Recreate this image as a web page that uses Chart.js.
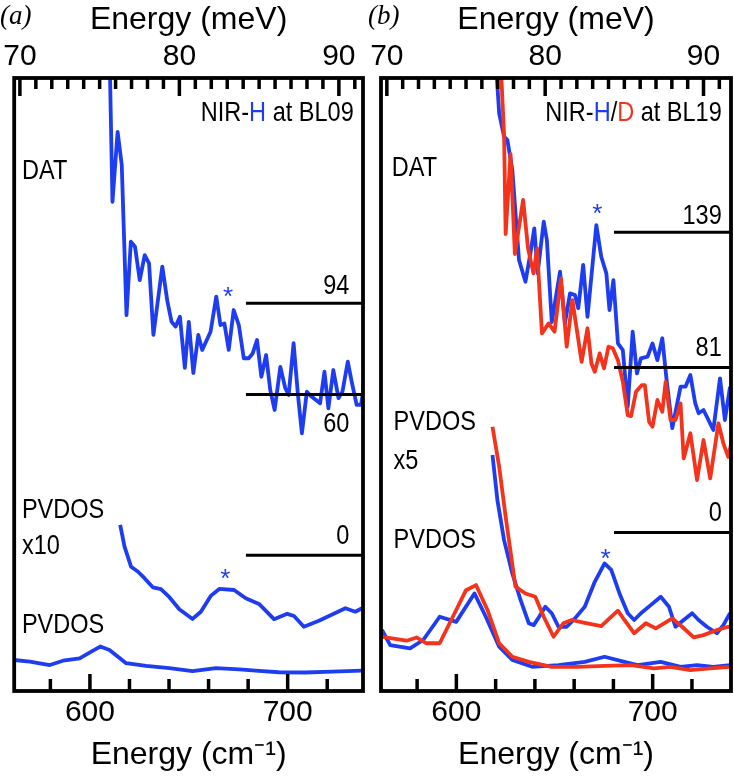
<!DOCTYPE html>
<html><head><meta charset="utf-8">
<script src="https://cdn.jsdelivr.net/npm/chart.js@4.4.1/dist/chart.umd.min.js"></script>
<style>
html,body{margin:0;padding:0;background:#fff;}
#wrap{position:relative;width:734px;height:778px;overflow:hidden;background:#fff;}
.pane{position:absolute;top:0;width:367px;height:778px;}
</style></head><body>
<div id="wrap">
<div class="pane" style="left:0"><canvas id="ca" width="367" height="778"></canvas></div>
<div class="pane" style="left:367px"><canvas id="cb" width="367" height="778"></canvas></div>
</div>
<script>
const MEV_TO_CM = 8.0655;
const cmTickLabels = [600, 700];
const cmTickMarks = [580, 600, 620, 640, 660, 680, 700, 720];
const mevTickLabels = [70, 80, 90];
const mevTickMarks = [70, 71, 72, 73, 74, 75, 76, 77, 78, 79, 80, 81, 82, 83, 84, 85, 86, 87, 88, 89, 90, 91];

// ---------- Panel (a): NIR-H at BL09 ----------
const aDatCm = [609.6,611.4,614.0,616.1,618.5,620.7,622.8,625.2,627.7,629.9,632.1,636.6,639.2,641.3,643.3,645.5,648.0,650.0,652.3,654.8,656.8,661.0,663.9,666.0,668.0,670.2,672.7,675.3,677.8,680.3,682.3,684.5,686.7,689.1,691.2,693.4,696.3,698.8,700.5,703.0,705.2,707.2,709.7,712.2,716.4,718.6,720.6,723.1,725.7,727.7,730.4,732.4,734.9,737.1,739.1];
const aDatCounts = [200,131.9,158.0,145.6,89.6,117.0,115.1,102.7,112.0,108.9,82.2,107.7,94.6,87.1,85.3,89.0,69.9,87.1,68.0,82.2,76.6,83.4,96.5,85.9,86.5,76.6,91.5,85.9,73.5,73.5,75.3,80.3,66.6,74.7,61.6,54.2,70.3,62.3,59.8,79.1,59.8,45.5,61.0,59.1,56.7,68.5,54.8,69.1,58.6,61.0,72.2,64.7,56.1,56.1,65.4];
const aPvdosX10Cm = [615.3,617.5,620.8,624.2,627.6,631.8,635.9,640.2,645.2,651.9,656.1,661.1,665.4,672.9,678.8,685.5,693.1,699.8,703.2,708.2,715.8,723.3,729.2,734.2,737.6,739.5];
const aPvdosX10 = [11.3,3.2,-4.3,-6.1,-8.6,-12.0,-12.7,-15.7,-20.2,-23.8,-21.1,-15.2,-12.6,-13.0,-16.1,-18.2,-23.9,-21.9,-22.7,-26.7,-24.5,-21.9,-19.8,-21.1,-19.8,-19.4];
const aPvdosCm = [561.2,569.6,579.7,586.4,594.8,600.7,605.2,609.9,618.3,628.4,640.2,651.9,663.7,675.5,685.5,695.5,708.9,722.5,737.6,739.5];
const aPvdos = [-39.1,-39.7,-41.0,-39.4,-38.5,-36.0,-34.1,-35.4,-40.3,-41.3,-42.2,-43.3,-42.2,-42.6,-43.2,-43.7,-43.8,-43.5,-43.1,-43.1];
const aRefLevels = [94, 60, 0];
const aRefLabels = ['94', '60', '0'];
const aRefFrom = 678.9;

// ---------- Panel (b): NIR-H/D at BL19 ----------
const bDatHCm = [619.9,621.8,624.3,626.0,628.5,631.9,635.2,637.7,639.7,641.4,644.5,646.1,648.6,652.8,655.3,657.9,660.4,662.1,664.6,666.8,671.3,673.8,676.4,678.0,680.0,682.3,684.8,687.3,689.8,692.0,694.0,697.4,699.9,702.4,704.9,707.1,710.0,714.2,716.7,719.2,721.7,723.4,725.9,727.6,730.9,734.3,736.8,739.4];
const bDatH = [215,190.1,180.1,178.6,165.8,127.1,117.8,130.0,140.7,121.4,143.6,135.7,100.5,122.1,99.9,112.8,112.1,106.4,125.0,102.7,142.1,128.5,121.4,105.6,118.5,91.3,88.4,64.1,96.3,78.4,84.9,85.6,91.3,84.1,93.5,75.6,54.9,72.7,72.7,77.7,65.5,61.3,62.7,59.8,54.1,76.3,58.4,72.7];
const bDatDCm = [622.4,624.3,625.1,627.6,629.8,634.0,636.5,639.3,641.1,643.6,647.0,650.0,653.3,656.2,659.1,663.8,666.8,668.8,670.5,673.0,675.2,677.5,679.7,682.3,684.8,687.3,689.0,691.5,694.5,696.0,698.2,699.9,702.4,704.9,706.6,709.1,711.6,714.2,715.8,719.2,722.6,725.9,729.3,733.5,736.0,738.5,740.4];
const bDatD = [215,180.8,138.3,172.6,129.7,152.9,132.1,121.4,132.1,95.6,99.9,96.3,119.2,89.9,109.9,83.4,97.8,82.7,79.1,87.0,80.6,89.9,89.2,84.1,74.8,60.5,60.1,70.5,73.4,73.4,57.6,55.5,67.0,61.9,74.8,58.4,58.4,65.5,41.9,52.7,32.6,49.8,33.3,57.0,48.4,42.6,49.8];
const bPvdosX5HCm = [618.4,620.9,624.3,628.5,632.7,636.9,639.4,642.1,645.3,648.6,652.0,656.2,660.4,665.4,670.5,675.5,678.9,683.1,687.3,690.6,694.0,699.0,704.1,708.3,711.6,715.8,720.1,723.4,727.6,732.7,736.0,739.4];
const bPvdosX5H = [43.4,24.0,6.8,-7.5,-18.9,-28.9,-29.7,-26.2,-21.8,-24.6,-30.4,-30.4,-26.8,-21.8,-11.1,-3.2,-6.0,-16.1,-24.6,-27.5,-24.6,-21.1,-17.5,-21.8,-30.4,-27.5,-24.6,-27.5,-30.4,-33.2,-29.7,-24.6];
const bPvdosX5DCm = [618.4,621.8,625.1,630.1,635.2,640.2,644.5,649.5,654.5,658.7,665.4,673.8,678.0,682.3,685.6,690.6,696.5,701.6,710.0,715.0,720.9,725.9,732.7,738.5,740.4];
const bPvdosX5D = [55.5,38.3,16.9,-13.2,-16.1,-17.5,-26.1,-34.7,-28.9,-27.5,-28.7,-30.1,-26.8,-23.5,-27.5,-33.2,-28.9,-31.1,-26.8,-30.4,-35.0,-34.0,-31.8,-30.4,-31.0];
const bPvdosHCm = [562.1,566.3,576.4,583.1,591.5,599.9,609.2,615.0,621.8,628.5,638.6,652.0,665.4,675.5,685.6,692.3,704.1,714.2,722.6,730.9,739.4];
const bPvdosH = [-31.8,-38.3,-39.7,-36.1,-26.1,-28.3,-16.1,-26.1,-39.0,-44.7,-47.6,-46.9,-45.5,-43.3,-45.5,-46.9,-45.5,-47.6,-46.9,-47.6,-46.9];
const bPvdosDCm = [562.1,574.7,579.7,584.8,591.5,598.2,604.9,610.0,615.9,621.8,628.5,636.9,648.6,662.1,675.5,689.0,700.7,709.1,719.2,729.3,739.4];
const bPvdosD = [-34.7,-36.4,-35.0,-37.5,-37.5,-26.1,-14.7,-12.5,-23.3,-37.5,-43.3,-45.5,-47.6,-47.6,-47.2,-46.9,-48.3,-47.6,-49.0,-48.3,-47.6];
const bRefLevels = [139, 81, 10.1];
const bRefLabels = ['139', '81', '0'];
const bRefFrom = 680.3;

const BLUE = '#1e3cf0';
const RED = '#f4331c';
const SANS = "'Liberation Sans', Arial, Helvetica, sans-serif";
const NARROW_SCALE = 0.84;

function pts(xs, ys) { return xs.map((x, i) => ({x: x, y: ys[i]})); }
function series(xs, ys, color, order) {
  return {data: pts(xs, ys), borderColor: color, backgroundColor: color, borderWidth: 3.8,
          pointRadius: 0, tension: 0, fill: false, order: order,
          borderJoinStyle: 'round', borderCapStyle: 'butt'};
}
function refSeries(level, from, to) {
  return {data: [{x: from, y: level}, {x: to, y: level}], borderColor: '#000', borderWidth: 3,
          pointRadius: 0, fill: false, order: 0};
}

function narrowText(ctx, parts, x, y, align) {
  ctx.save();
  ctx.font = '28px ' + SANS;
  ctx.textBaseline = 'middle';
  ctx.textAlign = 'left';
  let total = 0;
  parts.forEach(p => total += ctx.measureText(p.t).width);
  ctx.translate(x, y);
  ctx.scale(NARROW_SCALE, 1);
  let cx = align === 'right' ? -total : (align === 'center' ? -total / 2 : 0);
  parts.forEach(p => { ctx.fillStyle = p.c; ctx.fillText(p.t, cx, 0); cx += ctx.measureText(p.t).width; });
  ctx.restore();
}

function makePlugin(p) {
  return {
    id: 'deco' + p.tag,
    afterDraw(chart) {
      const ctx = chart.ctx, ca = chart.chartArea;
      const sx = chart.scales.x, st = chart.scales.xt, sy = chart.scales.y;
      ctx.save();
      ctx.fillStyle = '#000';
      // bottom tick marks (cm^-1), positioned through the top scale which spans the same range
      cmTickMarks.forEach(v => {
        const px = st.getPixelForValue(v / MEV_TO_CM);
        const len = cmTickLabels.indexOf(v) >= 0 ? 17 : 12;
        ctx.fillRect(px - 1.75, ca.bottom - len, 3.5, len);
      });
      // top tick marks (meV)
      mevTickMarks.forEach(v => {
        const px = st.getPixelForValue(v);
        const len = mevTickLabels.indexOf(v) >= 0 ? 18 : 11;
        ctx.fillRect(px - 1.75, ca.top, 3.5, len);
      });
      ctx.strokeStyle = '#000';
      ctx.lineWidth = 3.8;
      ctx.strokeRect(ca.left, ca.top, ca.right - ca.left, ca.bottom - ca.top);
      ctx.fillStyle = '#000';
      ctx.font = "italic 27px 'Liberation Serif', 'Times New Roman', serif";
      ctx.textAlign = 'left'; ctx.textBaseline = 'middle';
      ctx.fillText(p.letter, p.letterX, 17);
      p.texts.forEach(a => {
        const x = sx.getPixelForValue(a.x), y = sy.getPixelForValue(a.y);
        narrowText(ctx, a.parts || [{t: a.t, c: '#000'}], x, y, a.align || 'left');
      });
      p.refLevels.forEach((lv, i) => {
        const x = sx.getPixelForValue(p.refLabelX);
        const y = sy.getPixelForValue(lv) + p.refOffsets[i];
        narrowText(ctx, [{t: p.refLabels[i], c: '#000'}], x, y, 'right');
      });
      ctx.font = '26px ' + SANS; ctx.fillStyle = p.starColor; ctx.textAlign = 'center';
      ctx.textBaseline = 'alphabetic';
      p.stars.forEach(s => {
        ctx.fillText('*', sx.getPixelForValue(s.x), sy.getPixelForValue(s.y) + 15);
      });
      ctx.restore();
    }
  };
}

function labelIf(list) {
  return v => (Math.abs(v - Math.round(v)) < 1e-6 && list.includes(Math.round(v))) ? String(Math.round(v)) : '';
}

function makeChart(id, p) {
  const xmin = p.xmin, xmax = p.xmax;
  return new Chart(document.getElementById(id), {
    type: 'line',
    data: {datasets: p.datasets},
    options: {
      responsive: false, animation: false, devicePixelRatio: 1,
      layout: {autoPadding: false, padding: {left: p.padLeft, right: p.padRight, top: 0, bottom: 0}},
      plugins: {legend: {display: false}, tooltip: {enabled: false}},
      scales: {
        x: {type: 'linear', position: 'bottom', min: xmin, max: xmax,
            grid: {display: false, drawTicks: false}, border: {display: false},
            ticks: {stepSize: 20, includeBounds: false, autoSkip: false, maxRotation: 0, padding: 4, color: '#000',
                    font: {family: SANS, size: 30}, callback: labelIf(cmTickLabels)},
            title: {display: true, text: 'Energy (cm\u207B\u00B9)', color: '#000', font: {family: SANS, size: 32}, padding: {top: 0, bottom: 4}},
            afterFit: s => { s.height = 87; }},
        xt: {type: 'linear', position: 'top', min: xmin / MEV_TO_CM, max: xmax / MEV_TO_CM,
            grid: {display: false, drawTicks: false}, border: {display: false},
            ticks: {stepSize: 1, includeBounds: false, autoSkip: false, maxRotation: 0, padding: 3, color: '#000',
                    font: {family: SANS, size: 30}, callback: labelIf(mevTickLabels)},
            title: {display: true, text: 'Energy (meV)', color: '#000', font: {family: SANS, size: 32}, padding: {top: 1, bottom: 0}},
            afterFit: s => { s.height = 78; }},
        y: {type: 'linear', display: false, min: p.ymin, max: p.ymax}
      }
    },
    plugins: [makePlugin(p)]
  });
}

const aXmin = 561.7, aXmax = 738.1;
makeChart('ca', {
  tag: 'a', letter: '(a)', letterX: 0, padLeft: 13, padRight: 4,
  xmin: aXmin, xmax: aXmax, ymin: -50.7, ymax: 178.1,
  datasets: [
    ...aRefLevels.map(lv => refSeries(lv, aRefFrom, aXmax)),
    series(aDatCm, aDatCounts, BLUE, 1),
    series(aPvdosX10Cm, aPvdosX10, BLUE, 1),
    series(aPvdosCm, aPvdos, BLUE, 1)
  ],
  texts: [
    {parts: [{t: 'NIR-', c: '#000'}, {t: 'H', c: BLUE}, {t: ' at BL09', c: '#000'}], x: 733.4, y: 164.9, align: 'right'},
    {t: 'DAT', x: 565.7, y: 143.1},
    {t: 'PVDOS', x: 565.6, y: 16.9},
    {t: 'x10', x: 565.6, y: 3.2},
    {t: 'PVDOS', x: 565.6, y: -26.0}
  ],
  refLevels: aRefLevels, refLabels: aRefLabels, refLabelX: 731.2, refOffsets: [-17, 30, -19],
  starColor: BLUE,
  stars: [{x: 669.9, y: 99.0}, {x: 668.5, y: -6.1}]
});

const bXmin = 561.6, bXmax = 739.9;
makeChart('cb', {
  tag: 'b', letter: '(b)', letterX: 1, padLeft: 10, padRight: 3,
  xmin: bXmin, xmax: bXmax, ymin: -58.0, ymax: 205.3,
  datasets: [
    ...bRefLevels.map(lv => refSeries(lv, bRefFrom, bXmax)),
    series(bDatDCm, bDatD, RED, 1),
    series(bDatHCm, bDatH, BLUE, 2),
    series(bPvdosX5DCm, bPvdosX5D, RED, 1),
    series(bPvdosX5HCm, bPvdosX5H, BLUE, 2),
    series(bPvdosDCm, bPvdosD, RED, 1),
    series(bPvdosHCm, bPvdosH, BLUE, 2)
  ],
  texts: [
    {parts: [{t: 'NIR-', c: '#000'}, {t: 'H', c: BLUE}, {t: '/', c: '#000'}, {t: 'D', c: RED}, {t: ' at BL19', c: '#000'}], x: 735.2, y: 190.1, align: 'right'},
    {t: 'DAT', x: 567.1, y: 166.5},
    {t: 'PVDOS', x: 568.0, y: 57.6},
    {t: 'x5', x: 568.0, y: 40.5},
    {t: 'PVDOS', x: 568.0, y: 6.8}
  ],
  refLevels: bRefLevels, refLabels: bRefLabels, refLabelX: 735.2, refOffsets: [-16, -19, -19],
  starColor: BLUE,
  stars: [{x: 671.8, y: 150.0}, {x: 676.0, y: 1.8}]
});
</script>
</body></html>
